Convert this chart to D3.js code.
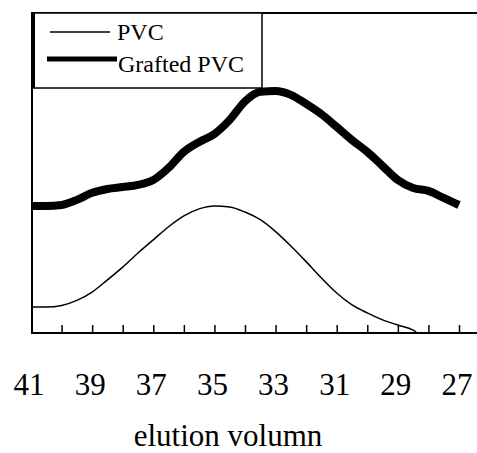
<!DOCTYPE html>
<html><head><meta charset="utf-8">
<script src="https://cdn.jsdelivr.net/npm/d3@7"></script>
<style>html,body{margin:0;padding:0;background:#fff;}svg{display:block;}</style>
</head><body>
<svg id="c" width="477" height="453"></svg>
<script>
const elution = [41,40.5,40,39.5,39,38.5,38,37.5,37,36.5,36,35.5,35,34.5,34,33.5,33,32.5,32,31.5,31,30.5,30,29.5,29,28.5,28.4];
const pvc = [8.1,8.1,8.6,10.2,12.8,16.6,20.6,25,29.1,33.2,36.6,38.8,39.7,39.4,37.8,35.4,31.7,27.2,22.3,17.2,12.5,8.8,6.3,4.1,2.5,0.9,0.3];
const elutionG = [41,40.5,40,39.5,39,38.5,38,37.5,37,36.5,36,35.5,35,34.5,34,33.5,33,32.5,32,31.5,31,30.5,30,29.5,29,28.5,28,27.5,27];
const grafted = [39.7,39.7,40,41.6,43.8,45,45.6,46.3,47.8,51.6,56.6,59.7,62.2,66.6,72.4,75.4,75.6,74.4,71.6,68.4,64.4,60.3,56.6,52.2,47.8,45.3,44.4,42.2,40];
const tickValues = [40,39,38,37,36,35,34,33,32,31,30,29,28,27];
const tickLabels = ["41","39","37","35","33","31","29","27"];
const seriesNames = ["PVC","Grafted PVC"];

const svg = d3.select("#c");
const x = d3.scaleLinear().domain([41,27]).range([31,459]);
const y = d3.scaleLinear().domain([0,100]).range([333,13]);

// frame: top line and left line
svg.append("line").attr("x1",31).attr("x2",477).attr("y1",13).attr("y2",13).attr("stroke","#000").attr("stroke-width",2);
svg.append("line").attr("x1",32).attr("x2",32).attr("y1",12).attr("y2",334).attr("stroke","#000").attr("stroke-width",2);

// bottom axis
const ax = svg.append("g").attr("transform","translate(0,333)")
  .call(d3.axisBottom(x).tickValues(tickValues).tickSize(-8).tickFormat(""));
ax.select(".domain").remove();
ax.selectAll(".tick line").attr("stroke","#000").attr("stroke-width",1.5);
svg.append("line").attr("x1",31).attr("x2",477).attr("y1",333).attr("y2",333).attr("stroke","#000").attr("stroke-width",2);

// tick labels
svg.selectAll("text.tl").data(tickLabels).enter().append("text")
  .attr("class","tl")
  .attr("x",d=>x(+d)-2).attr("y",395)
  .attr("text-anchor","middle")
  .attr("font-family","Liberation Serif, serif").attr("font-size",31)
  .text(d=>d);
svg.append("text").attr("x",228).attr("y",446).attr("text-anchor","middle")
  .attr("font-family","Liberation Serif, serif").attr("font-size",31)
  .text("elution volumn");

// curves
const line = d3.line().x(d=>x(d[0])).y(d=>y(d[1])).curve(d3.curveMonotoneX);
svg.append("path").datum(elution.map((e,i)=>[e,pvc[i]]))
  .attr("d",line).attr("fill","none").attr("stroke","#000").attr("stroke-width",1.5);
svg.append("path").datum(elutionG.map((e,i)=>[e,grafted[i]]))
  .attr("d",line).attr("fill","none").attr("stroke","#000").attr("stroke-width",8);

// legend
const lg = svg.append("g");
lg.append("rect").attr("x",32).attr("y",13).attr("width",230).attr("height",75)
  .attr("fill","#fff").attr("stroke","#000").attr("stroke-width",1.5);
lg.append("line").attr("x1",33).attr("x2",33).attr("y1",13).attr("y2",88).attr("stroke","#000").attr("stroke-width",4);
lg.append("line").attr("x1",50).attr("x2",110).attr("y1",32).attr("y2",32).attr("stroke","#000").attr("stroke-width",1.5);
lg.append("line").attr("x1",47).attr("x2",117).attr("y1",59).attr("y2",59).attr("stroke","#000").attr("stroke-width",5);
lg.append("text").attr("x",117).attr("y",40).attr("font-family","Liberation Serif, serif").attr("font-size",24).text(seriesNames[0]);
lg.append("text").attr("x",118).attr("y",72).attr("font-family","Liberation Serif, serif").attr("font-size",24).text(seriesNames[1]);
</script>
</body></html>
